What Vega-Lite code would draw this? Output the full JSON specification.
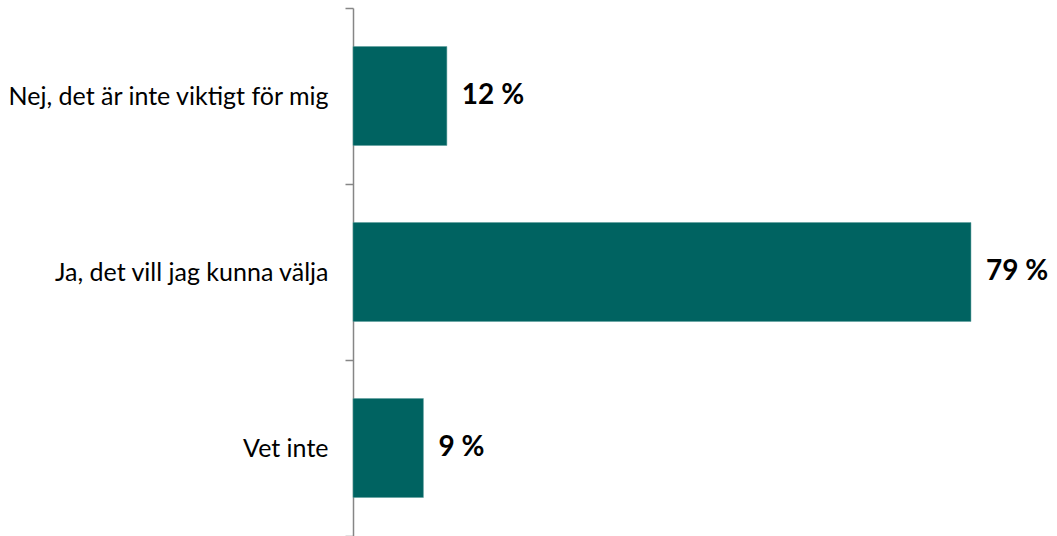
{
  "$schema": "https://vega.github.io/schema/vega-lite/v6.json",
  "autosize": {"type": "none"},
  "padding": {"left": 353, "top": 8, "right": 0, "bottom": 0},
  "width": 704,
  "height": 528,
  "background": "white",
  "config": {"view": {"stroke": null}, "font": "Lato"},
  "data": {
    "values": [
      {"svar": "Nej, det är inte viktigt för mig", "andel": 12},
      {"svar": "Ja, det vill jag kunna välja", "andel": 79},
      {"svar": "Vet inte", "andel": 9}
    ]
  },
  "encoding": {
    "y": {
      "field": "svar",
      "type": "nominal",
      "sort": null,
      "scale": {"paddingInner": 0, "paddingOuter": 0},
      "axis": {
        "title": null,
        "tickBand": "extent",
        "domainColor": "#868686",
        "tickColor": "#868686",
        "domainWidth": 1.5,
        "tickWidth": 1.5,
        "tickSize": 8,
        "labelPadding": 17,
        "labelFontSize": 25,
        "labelColor": "#000000",
        "labelFont": "Lato",
        "labelLimit": 400
      }
    },
    "x": {
      "field": "andel",
      "type": "quantitative",
      "scale": {"domain": [0, 90]},
      "axis": null
    }
  },
  "layer": [
    {"mark": {"type": "bar", "color": "#006361", "stroke": "#5a9c9a", "strokeWidth": 0.5, "height": {"band": 0.5625}}},
    {
      "mark": {"type": "text", "align": "left", "dx": 15, "fontSize": 28, "fontWeight": "bold", "color": "#000000", "font": "Lato"},
      "encoding": {"text": {"value": {"expr": "datum.andel + ' %'"}}}
    }
  ]
}
